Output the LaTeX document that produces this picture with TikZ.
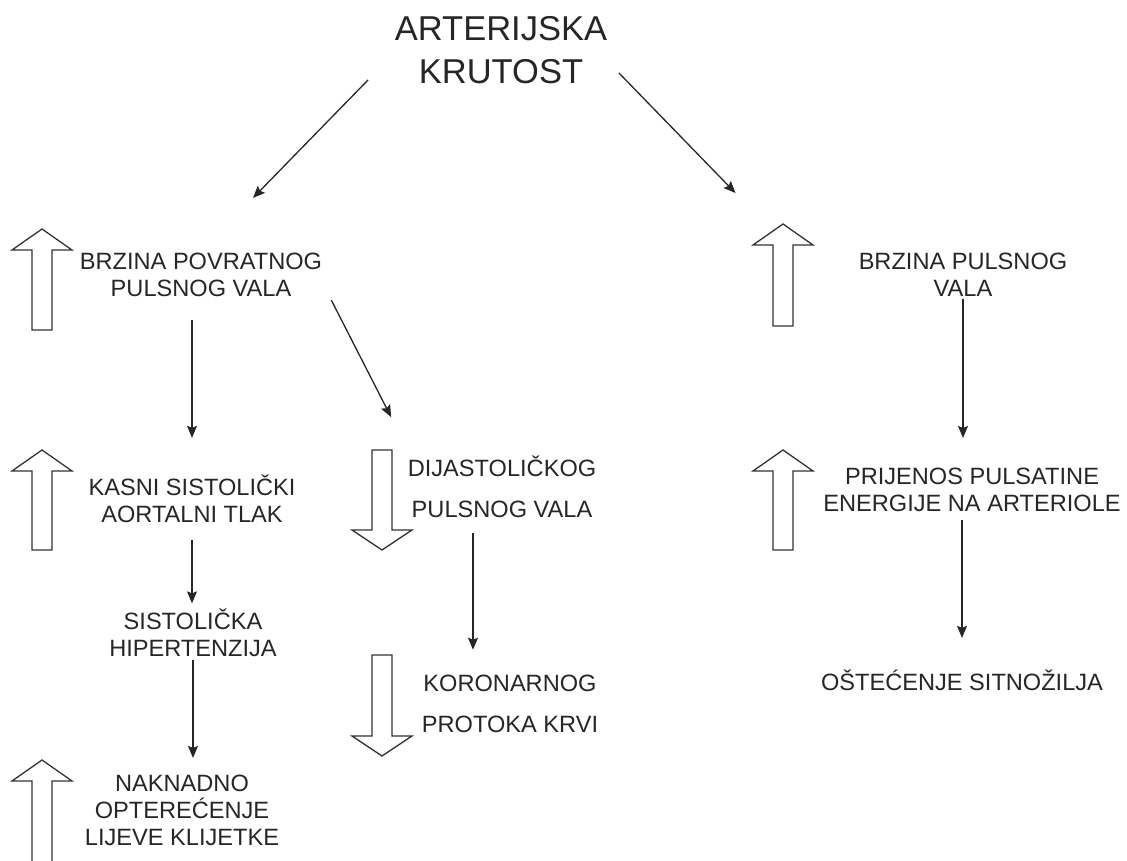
\documentclass[tikz,border=0pt]{standalone}
\usepackage{fontspec}
\setmainfont{Liberation Sans}
\usepackage{tikz}
\usetikzlibrary{arrows.meta}

\begin{document}
\begin{tikzpicture}
  [x=1pt,y=-1pt,
   every node/.style={inner sep=0pt,align=center,text=black!85,font=\fontsize{23.6}{27}\selectfont},
   razmak/.style={font=\fontsize{23.6}{41.5}\selectfont},
   veza/.style={-{Stealth[length=12pt,width=10pt,inset=2pt]},line width=1.3pt,draw=black!85},
   strelica/.style={line width=1.3pt,draw=black!80,fill=white}]

  \useasboundingbox (0,0) rectangle (1127,861);

  %%%%%%%%%%%%%%%%%%%%%% NASLOV %%%%%%%%%%%%%%%%%%%%%%
  \node(kt) at (501,50) [font=\fontsize{34.5}{43}\selectfont] {ARTERIJSKA\\KRUTOST};

  %%%%%%%%%%%%%%%%%%%%%% LIJEVO %%%%%%%%%%%%%%%%%%%%%%
  \node(bpv)  at (201,275)   {BRZINA POVRATNOG\\PULSNOG VALA};
  \node(ksat) at (192,499)   {KASNI SISTOLIČKI\\AORTALNI TLAK};
  \node(shtn) at (193,633)   {SISTOLIČKA\\HIPERTENZIJA};
  \node(nolk) at (182,810.5) {NAKNADNO\\OPTEREĆENJE\\LIJEVE KLIJETKE};

  \node(dpv) at (502,487) [razmak] {DIJASTOLIČKOG\\PULSNOG VALA};
  \node(kpk) at (510,704) [razmak] {KORONARNOG\\PROTOKA KRVI};

  %%%%%%%%%%%%%%%%%%%%%% DESNO %%%%%%%%%%%%%%%%%%%%%%
  \node(bpul) at (963,275) {BRZINA PULSNOG\\VALA};
  \node(ppe)  at (972,490) {PRIJENOS PULSATINE\\ENERGIJE NA ARTERIOLE};
  \node(oss)  at (962,680) {OŠTEĆENJE SITNOŽILJA};

  % povecanje / smanjenje
  \foreach \x/\t/\b in {42/229/330,42/450/550,42/760/862,783/224/326,783/450/550}
    \draw[strelica] (\x,\t) -- (\x+30,\t+21) -- (\x+10,\t+21) -- (\x+10,\b)
      -- (\x-10,\b) -- (\x-10,\t+21) -- (\x-30,\t+21) -- cycle;

  \foreach \x/\t/\b in {382/450/550,382/655/756}
    \draw[strelica] (\x-10,\t) -- (\x+10,\t) -- (\x+10,\b-20) -- (\x+30,\b-20)
      -- (\x,\b) -- (\x-30,\b-20) -- (\x-10,\b-20) -- cycle;

  % veze
  \draw[veza] ([xshift=-26.6pt,yshift=4pt]kt.south west) -- ([xshift=52pt,yshift=55pt]bpv.north);
  \draw[veza] ([xshift=11.6pt,yshift=11pt]kt.south east) -- ([xshift=-123pt,yshift=60pt]bpul.north west);

  \draw[veza,shorten <=23pt,shorten >=37pt] (bpv.south -| ksat.north) -- (ksat.north);
  \draw[veza] ([xshift=9pt,yshift=-3pt]bpv.south east) -- ([xshift=-16.5pt,yshift=38.5pt]dpv.north west);
  \draw[veza,shorten <=17pt,shorten >=5.5pt] (ksat.south) -- (ksat.south |- shtn.north);
  \draw[veza,shorten <=3pt,shorten >=17pt] (shtn.south) -- (shtn.south |- nolk.north);
  \draw[veza,shorten <=15pt,shorten >=25pt] ([xshift=-29pt]dpv.south) -- ([xshift=-29pt]dpv.south |- kpk.north);

  \draw[veza,shorten <=2pt,shorten >=30pt] (bpul.south) -- (bpul.south |- ppe.north);
  \draw[veza,shorten <=8pt,shorten >=31.5pt] (ppe.south -| oss.north) -- (oss.north);

\end{tikzpicture}
\end{document}
